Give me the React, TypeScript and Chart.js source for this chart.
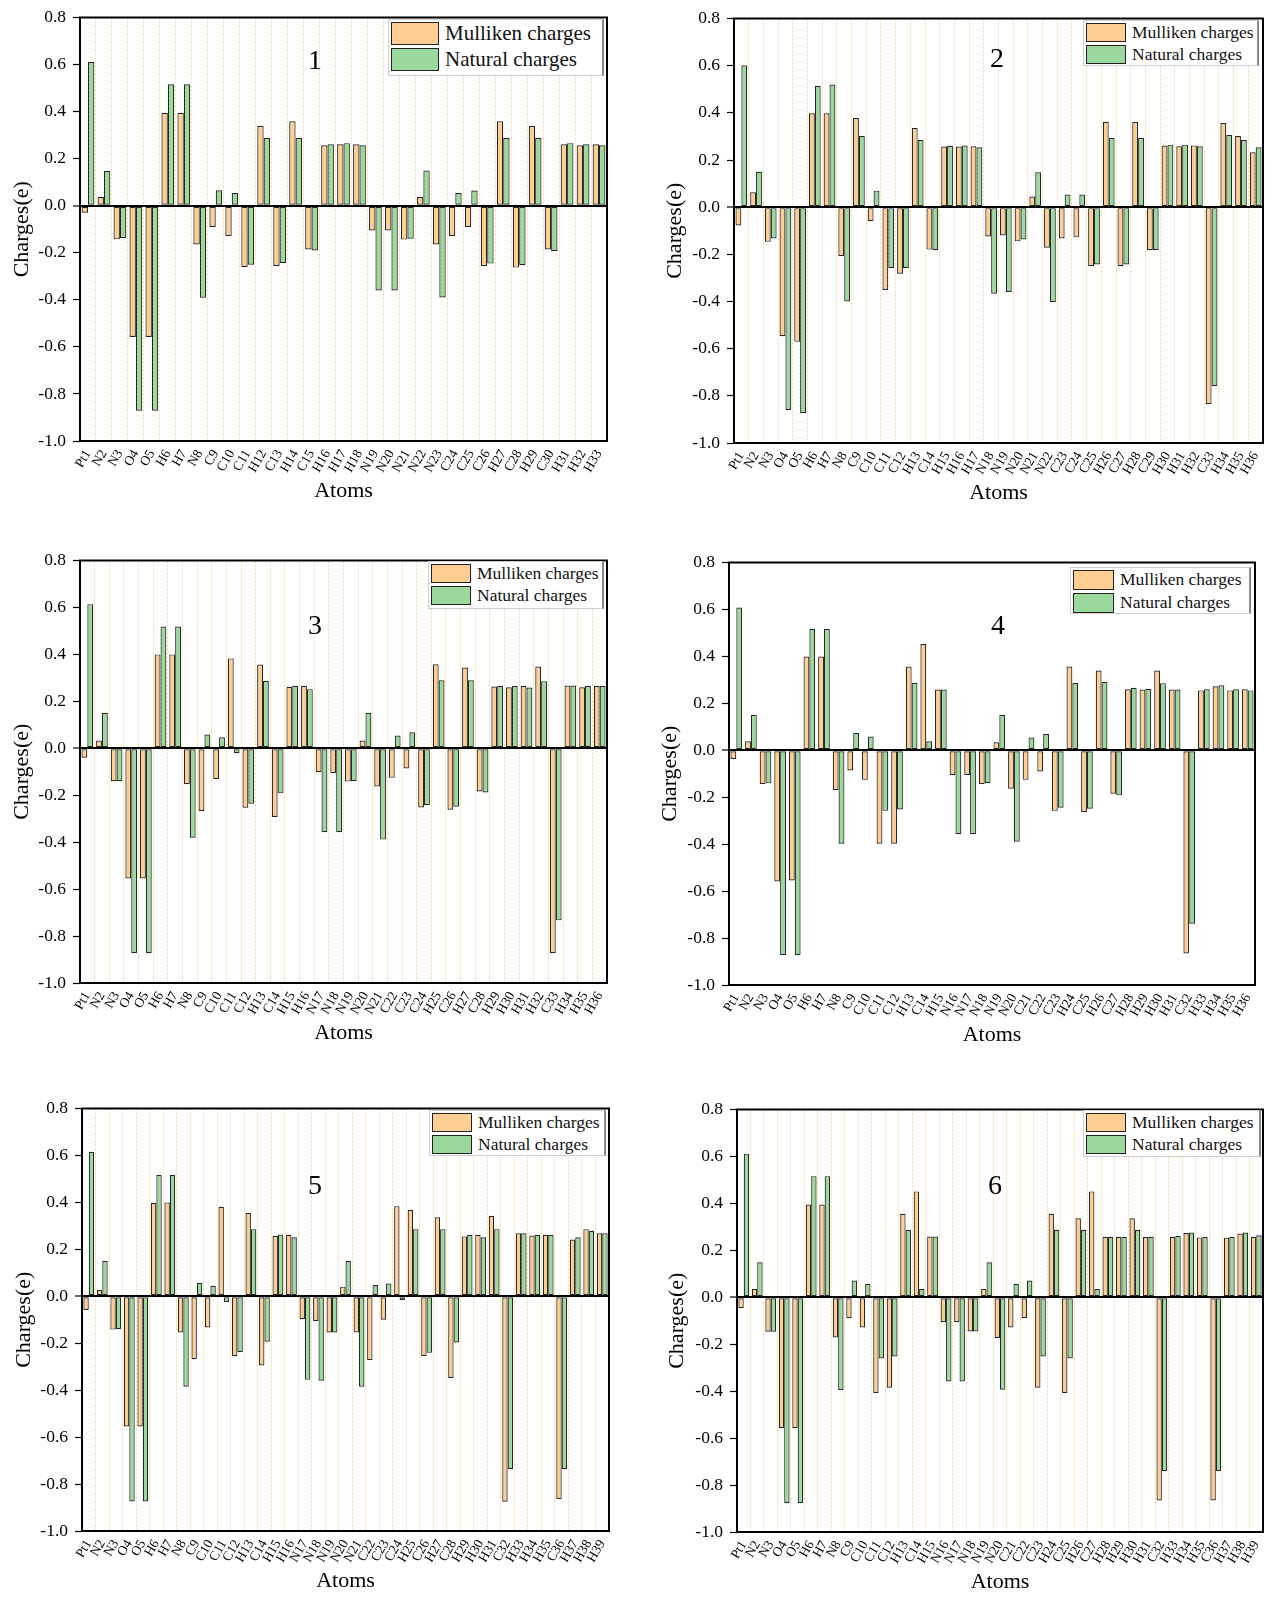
import React, { useEffect, useRef } from 'react';
import { Chart, registerables } from 'chart.js';

Chart.register(...registerables);

// ---- data ----
const atoms1 = ['Pt1', 'N2', 'N3', 'O4', 'O5', 'H6', 'H7', 'N8', 'C9', 'C10', 'C11', 'H12', 'C13', 'H14', 'C15', 'H16', 'H17', 'H18', 'N19', 'N20', 'N21', 'N22', 'N23', 'C24', 'C25', 'C26', 'H27', 'C28', 'H29', 'C30', 'H31', 'H32', 'H33'];
const mulliken1 = [-0.03, 0.037, -0.143, -0.558, -0.558, 0.395, 0.395, -0.165, -0.09, -0.129, -0.26, 0.34, -0.256, 0.359, -0.186, 0.257, 0.261, 0.261, -0.105, -0.105, -0.144, 0.037, -0.165, -0.13, -0.09, -0.257, 0.359, -0.263, 0.34, -0.186, 0.261, 0.257, 0.261];
const natural1 = [0.611, 0.148, -0.138, -0.871, -0.871, 0.516, 0.516, -0.391, 0.066, 0.054, -0.251, 0.288, -0.243, 0.288, -0.19, 0.261, 0.266, 0.257, -0.36, -0.36, -0.14, 0.15, -0.39, 0.054, 0.065, -0.246, 0.288, -0.253, 0.288, -0.192, 0.266, 0.261, 0.257];

const atoms2 = ['Pt1', 'N2', 'N3', 'O4', 'O5', 'H6', 'H7', 'N8', 'C9', 'C10', 'C11', 'C12', 'H13', 'C14', 'H15', 'H16', 'H17', 'N18', 'N19', 'N20', 'N21', 'N22', 'C23', 'C24', 'C25', 'H26', 'C27', 'H28', 'C29', 'H30', 'H31', 'H32', 'C33', 'H34', 'H35', 'H36'];
const mulliken2 = [-0.078, 0.063, -0.147, -0.547, -0.571, 0.398, 0.398, -0.207, 0.378, -0.059, -0.351, -0.282, 0.336, -0.18, 0.257, 0.257, 0.258, -0.124, -0.12, -0.145, 0.045, -0.172, -0.133, -0.128, -0.25, 0.362, -0.25, 0.362, -0.183, 0.261, 0.258, 0.262, -0.835, 0.357, 0.302, 0.233];
const natural2 = [0.602, 0.15, -0.133, -0.86, -0.874, 0.515, 0.52, -0.4, 0.302, 0.07, -0.258, -0.258, 0.285, -0.183, 0.26, 0.261, 0.254, -0.367, -0.36, -0.137, 0.148, -0.403, 0.054, 0.054, -0.243, 0.293, -0.243, 0.293, -0.183, 0.265, 0.265, 0.258, -0.759, 0.306, 0.285, 0.254];

const atoms3 = ['Pt1', 'N2', 'N3', 'O4', 'O5', 'H6', 'H7', 'N8', 'C9', 'C10', 'C11', 'C12', 'H13', 'C14', 'H15', 'H16', 'N17', 'N18', 'N19', 'N20', 'N21', 'C22', 'C23', 'C24', 'H25', 'C26', 'H27', 'C28', 'H29', 'H30', 'H31', 'H32', 'C33', 'H34', 'H35', 'H36'];
const mulliken3 = [-0.04, 0.033, -0.14, -0.555, -0.555, 0.4, 0.4, -0.153, -0.267, -0.132, 0.383, -0.253, 0.357, -0.293, 0.262, 0.266, -0.102, -0.106, -0.142, 0.033, -0.163, -0.126, -0.086, -0.252, 0.358, -0.262, 0.344, -0.184, 0.263, 0.26, 0.265, 0.348, -0.873, 0.267, 0.26, 0.265];
const natural3 = [0.614, 0.151, -0.14, -0.873, -0.873, 0.519, 0.519, -0.381, 0.059, 0.047, -0.021, -0.236, 0.287, -0.192, 0.266, 0.252, -0.358, -0.358, -0.139, 0.151, -0.389, 0.054, 0.068, -0.242, 0.29, -0.249, 0.29, -0.188, 0.266, 0.265, 0.259, 0.286, -0.733, 0.267, 0.265, 0.265];

const atoms4 = ['Pt1', 'N2', 'N3', 'O4', 'O5', 'H6', 'H7', 'N8', 'C9', 'C10', 'C11', 'C12', 'H13', 'C14', 'H15', 'N16', 'N17', 'N18', 'N19', 'N20', 'C21', 'C22', 'C23', 'H24', 'C25', 'H26', 'C27', 'H28', 'H29', 'H30', 'H31', 'C32', 'H33', 'H34', 'H35', 'H36'];
const mulliken4 = [-0.037, 0.038, -0.144, -0.559, -0.555, 0.399, 0.399, -0.17, -0.086, -0.126, -0.398, -0.398, 0.357, 0.453, 0.259, -0.105, -0.105, -0.144, 0.034, -0.164, -0.126, -0.09, -0.258, 0.357, -0.263, 0.34, -0.185, 0.26, 0.259, 0.34, 0.259, -0.866, 0.255, 0.273, 0.255, 0.26];
const natural4 = [0.608, 0.151, -0.141, -0.873, -0.873, 0.518, 0.518, -0.398, 0.074, 0.059, -0.258, -0.252, 0.287, 0.038, 0.259, -0.358, -0.358, -0.14, 0.151, -0.39, 0.054, 0.069, -0.245, 0.287, -0.249, 0.292, -0.192, 0.266, 0.262, 0.286, 0.259, -0.739, 0.26, 0.277, 0.26, 0.255];

const atoms5 = ['Pt1', 'N2', 'N3', 'O4', 'O5', 'H6', 'H7', 'N8', 'C9', 'C10', 'C11', 'C12', 'H13', 'C14', 'H15', 'H16', 'N17', 'N18', 'N19', 'N20', 'N21', 'C22', 'C23', 'C24', 'H25', 'C26', 'H27', 'C28', 'H29', 'H30', 'H31', 'C32', 'H33', 'H34', 'H35', 'C36', 'H37', 'H38', 'H39'];
const mulliken5 = [-0.058, 0.027, -0.142, -0.555, -0.555, 0.398, 0.4, -0.154, -0.268, -0.133, 0.381, -0.255, 0.356, -0.295, 0.258, 0.262, -0.098, -0.105, -0.154, 0.041, -0.154, -0.272, -0.1, 0.384, 0.368, -0.255, 0.337, -0.348, 0.255, 0.262, 0.343, -0.875, 0.268, 0.259, 0.262, -0.864, 0.242, 0.286, 0.268];
const natural5 = [0.616, 0.15, -0.139, -0.874, -0.874, 0.517, 0.517, -0.385, 0.057, 0.045, -0.024, -0.237, 0.286, -0.194, 0.263, 0.251, -0.356, -0.36, -0.154, 0.15, -0.385, 0.048, 0.054, -0.016, 0.286, -0.241, 0.286, -0.197, 0.262, 0.251, 0.286, -0.737, 0.268, 0.262, 0.261, -0.737, 0.251, 0.279, 0.268];

const atoms6 = ['Pt1', 'N2', 'N3', 'O4', 'O5', 'H6', 'H7', 'N8', 'C9', 'C10', 'C11', 'C12', 'H13', 'C14', 'H15', 'N16', 'N17', 'N18', 'N19', 'N20', 'C21', 'C22', 'C23', 'H24', 'C25', 'H26', 'C27', 'H28', 'H29', 'H30', 'H31', 'C32', 'H33', 'H34', 'H35', 'C36', 'H37', 'H38', 'H39'];
const mulliken6 = [-0.047, 0.035, -0.147, -0.558, -0.558, 0.395, 0.395, -0.171, -0.089, -0.129, -0.408, -0.385, 0.356, 0.451, 0.259, -0.106, -0.106, -0.146, 0.035, -0.173, -0.129, -0.089, -0.385, 0.356, -0.408, 0.337, 0.451, 0.258, 0.257, 0.337, 0.257, -0.866, 0.258, 0.274, 0.255, -0.866, 0.254, 0.272, 0.258];
const natural6 = [0.612, 0.149, -0.147, -0.877, -0.877, 0.516, 0.516, -0.395, 0.071, 0.057, -0.261, -0.252, 0.288, 0.035, 0.259, -0.359, -0.359, -0.146, 0.149, -0.394, 0.057, 0.071, -0.252, 0.288, -0.261, 0.288, 0.035, 0.258, 0.258, 0.288, 0.258, -0.74, 0.262, 0.276, 0.258, -0.74, 0.258, 0.276, 0.264];

const MULLIKEN_FILL = '#FDCD91';
const NATURAL_FILL = '#9BD89C';
const BAR_EDGE = '#262626';
const SERIF = '"Liberation Serif", "Times New Roman", serif';

type Panel = {
  id: string;
  atoms: string[];
  mulliken: number[];
  natural: number[];
  left: number;
  plot: { x0: number; y0: number; x1: number; y1: number };
  yTitleX: number;
  num: { x: number; y: number };
  legend: { x: number; y: number; w: number; h: number; font: number; sw: number; sh: number };
  grid: boolean;
};

const panels: Panel[] = [
  { id: '1', atoms: atoms1, mulliken: mulliken1, natural: natural1, left: 0, plot: { x0: 80, y0: 16, x1: 607, y1: 441 }, yTitleX: 22, num: { x: 315, y: 60 }, legend: { x: 388, y: 19, w: 216, h: 57, font: 21, sw: 48, sh: 23 }, grid: true },
  { id: '2', atoms: atoms2, mulliken: mulliken2, natural: natural2, left: 630, plot: { x0: 734, y0: 17, x1: 1263, y1: 443 }, yTitleX: 675, num: { x: 997, y: 58 }, legend: { x: 1083, y: 20, w: 176, h: 46, font: 17.5, sw: 40, sh: 19 }, grid: true },
  { id: '3', atoms: atoms3, mulliken: mulliken3, natural: natural3, left: 0, plot: { x0: 80, y0: 559, x1: 607, y1: 983 }, yTitleX: 22, num: { x: 315, y: 625 }, legend: { x: 428, y: 561, w: 176, h: 48, font: 17.5, sw: 40, sh: 19 }, grid: true },
  { id: '4', atoms: atoms4, mulliken: mulliken4, natural: natural4, left: 630, plot: { x0: 729, y0: 561, x1: 1255, y1: 985 }, yTitleX: 670, num: { x: 998, y: 625 }, legend: { x: 1070, y: 567, w: 181, h: 47, font: 17.5, sw: 41, sh: 20 }, grid: false },
  { id: '5', atoms: atoms5, mulliken: mulliken5, natural: natural5, left: 0, plot: { x0: 82, y0: 1107, x1: 609, y1: 1531 }, yTitleX: 24, num: { x: 315, y: 1185 }, legend: { x: 429, y: 1110, w: 177, h: 46, font: 17.5, sw: 40, sh: 19 }, grid: true },
  { id: '6', atoms: atoms6, mulliken: mulliken6, natural: natural6, left: 630, plot: { x0: 737, y0: 1108, x1: 1263, y1: 1532 }, yTitleX: 677, num: { x: 995, y: 1185 }, legend: { x: 1083, y: 1110, w: 178, h: 47, font: 17.5, sw: 40, sh: 19 }, grid: true },
];

// black box around the plot area
const framePlugin = {
  id: 'frame',
  afterDatasetsDraw(chart: any) {
    const { ctx, chartArea: a } = chart;
    ctx.save();
    ctx.strokeStyle = '#000';
    ctx.lineWidth = 2;
    ctx.strokeRect(a.left, a.top, a.right - a.left, a.bottom - a.top);
    ctx.restore();
  },
};

const isZero = (c: any) => c.tick && Math.abs(c.tick.value) < 1e-9;

const LegendBox = ({ p }: { p: Panel }) => {
  const l = p.legend;
  const items = [
    { label: 'Mulliken charges', fill: MULLIKEN_FILL },
    { label: 'Natural charges', fill: NATURAL_FILL },
  ];
  return (
    <div style={{ position: 'absolute', left: l.x, top: l.y, width: l.w, height: l.h, boxSizing: 'border-box', background: '#fff', border: '1px solid #cfcfcf', borderRight: '2px solid #8a8a8a', padding: '2px 0 0 2px', display: 'flex', flexDirection: 'column', gap: 3, fontFamily: SERIF, fontSize: l.font, color: '#111' }}>
      {items.map(it => (
        <div key={it.label} style={{ display: 'flex', alignItems: 'center', height: l.sh, whiteSpace: 'nowrap' }}>
          <span style={{ display: 'inline-block', boxSizing: 'border-box', width: l.sw, height: l.sh, background: it.fill, border: '1.5px solid #222', marginRight: 6 }} />
          <span style={{ lineHeight: 1 }}>{it.label}</span>
        </div>
      ))}
    </div>
  );
};

const ChargePanel = ({ p }: { p: Panel }) => {
  const canvasRef = useRef<HTMLCanvasElement>(null);
  const top = p.plot.y0 - 16;
  const width = p.plot.x1 + 15 - p.left;
  const height = p.plot.y1 + 70 - top;

  useEffect(() => {
    const ctx = canvasRef.current?.getContext('2d');
    if (!ctx) return;
    const chart = new Chart(ctx, {
      type: 'bar',
      data: {
        labels: p.atoms,
        datasets: [
          { label: 'Mulliken charges', data: p.mulliken, backgroundColor: MULLIKEN_FILL, borderColor: BAR_EDGE, borderWidth: 1.2, borderSkipped: false },
          { label: 'Natural charges', data: p.natural, backgroundColor: NATURAL_FILL, borderColor: BAR_EDGE, borderWidth: 1.2, borderSkipped: false },
        ],
      },
      options: {
        responsive: true,
        maintainAspectRatio: false,
        animation: false,
        layout: { padding: { left: 0, top: 16, right: 15, bottom: 0 } },
        datasets: { bar: { categoryPercentage: 0.8, barPercentage: 1 } },
        plugins: { legend: { display: false }, tooltip: { enabled: false } },
        scales: {
          x: {
            grid: { display: p.grid, offset: true, drawTicks: false, color: 'rgba(240, 190, 80, 0.6)', lineWidth: 1 },
            border: { display: false, dash: [2, 2] },
            ticks: { autoSkip: false, minRotation: 60, maxRotation: 60, padding: 6, color: '#000', font: { family: SERIF, size: 13.5 } },
            title: { display: true, text: 'Atoms', color: '#000', font: { family: SERIF, size: 22 }, padding: { top: 0, bottom: 7 } },
            afterFit: (s: any) => { s.height = 70; },
          },
          y: {
            min: -1,
            max: 0.8,
            ticks: {
              stepSize: 0.1,
              padding: 7,
              color: '#000',
              font: { family: SERIF, size: 17.5 },
              callback: (v: any) => {
                const t = Math.round(Number(v) * 10);
                return t % 2 === 0 ? (t / 10).toFixed(1) : '';
              },
            },
            grid: {
              drawOnChartArea: true,
              color: (c: any) => (isZero(c) ? '#000' : 'rgba(0,0,0,0)'),
              lineWidth: (c: any) => (isZero(c) ? 2 : 1),
              tickColor: '#000',
              tickLength: 7,
              tickWidth: 1.2,
            },
            border: { display: false },
            title: { display: true, text: 'Charges(e)', color: '#000', font: { family: SERIF, size: 22 }, padding: { top: p.yTitleX - p.left - 13.2, bottom: 0 } },
            afterFit: (s: any) => { s.width = p.plot.x0 - p.left; },
          },
        },
      },
      plugins: [framePlugin],
    } as any);
    return () => chart.destroy();
  }, [p]);

  return (
    <>
      <div style={{ position: 'absolute', left: p.left, top, width, height }}>
        <canvas ref={canvasRef}></canvas>
      </div>
      <LegendBox p={p} />
      <div style={{ position: 'absolute', left: p.num.x - 20, top: p.num.y - 14, width: 40, textAlign: 'center', fontFamily: SERIF, fontSize: 28, lineHeight: '28px', color: '#000' }}>{p.id}</div>
    </>
  );
};

export default function App() {
  return (
    <div style={{ position: 'absolute', left: 0, top: 0, width: 1280, height: 1600, background: '#fff', overflow: 'hidden' }}>
      {panels.map(p => <ChargePanel key={p.id} p={p} />)}
    </div>
  );
}
